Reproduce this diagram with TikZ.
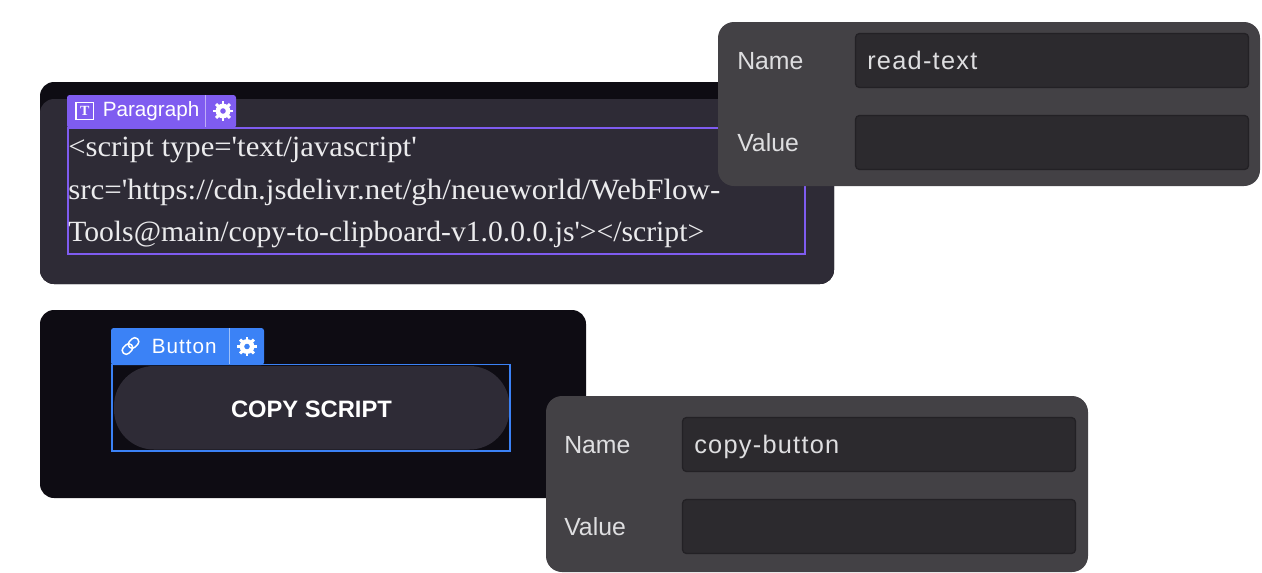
\documentclass[tikz,border=0pt]{standalone}
\usepackage{fontspec}
\newfontfamily\codefont{Liberation Serif}
\newfontfamily\uifont{Liberation Sans}
\newfontfamily\uiwide[LetterSpace=5]{Liberation Sans}
\definecolor{blackpanel}{HTML}{0E0C13}
\definecolor{innerpanel}{HTML}{2E2B36}
\definecolor{purplesel}{HTML}{7F5CF0}
\definecolor{bluesel}{HTML}{3B82F6}
\definecolor{graypanel}{HTML}{434145}
\definecolor{fieldfill}{HTML}{2C2A2E}
\definecolor{fieldline}{HTML}{232125}
\definecolor{labelgray}{HTML}{DEDEE0}
\definecolor{codegray}{HTML}{EBEBED}
\tikzset{
  x=0.75pt,y=-0.75pt,
  lbl/.style={anchor=base west,inner sep=0,text=labelgray,font=\uifont\fontsize{18.6}{20}\selectfont},
  fieldtext/.style={anchor=base west,inner sep=0,text=labelgray,font=\uiwide\fontsize{19}{20}\selectfont},
  tagtext/.style={anchor=base west,inner sep=0,text=white,font=\uifont\fontsize{15.5}{18}\selectfont},
  tagwide/.style={anchor=base west,inner sep=0,text=white,font=\uiwide\fontsize{15.5}{18}\selectfont},
  codeline/.style={anchor=base west,inner sep=0,text=codegray,font=\codefont\fontsize{22}{24}\selectfont},
  fieldbox/.style={fill=fieldfill,draw=fieldline,line width=1pt,rounded corners=3pt},
  panelbox/.style={fill=graypanel,rounded corners=12pt},
  blackbox/.style={fill=blackpanel,rounded corners=10.5pt},
}
\newcommand{\gearicon}[2]{%
  \foreach \a in {0,45,...,315}{\draw[white,line width=2.2pt] (#1,#2)++(\a:6.2)--++(\a:3.6);}
  \fill[white,even odd rule] (#1,#2) circle[radius=7.4] (#1,#2) circle[radius=2.9];
}
\begin{document}
\begin{tikzpicture}
\useasboundingbox (0,0) rectangle (1262,572);
% top dark panel
\fill[blackbox] (40,82) rectangle (834,284);
\fill[innerpanel,rounded corners=10.5pt] (40,99) -- (834,99) -- (834,284) -- (40,284) -- cycle;
\draw[purplesel,line width=1.5pt] (67.5,127.5) rectangle (804.5,253.5);
\fill[purplesel,rounded corners=2pt] (67,128) -- (67,95) -- (236,95) -- (236,128) -- cycle;
\draw[white,opacity=.5,line width=1pt] (205.5,95) -- (205.5,127);
\draw[white,line width=1pt] (76,102.5) rectangle (93.5,119.5);
\node[anchor=center,inner sep=0,text=white,font=\codefont\bfseries\fontsize{10.5}{12}\selectfont] (ticon) at (84.8,111) {T};
\node[tagtext] (ptag) at (102.5,116.5) {Paragraph};
\gearicon{223}{111}
\node[codeline] (c1) at (68,156.5) {\scalebox{1.047}[1]{<script type='text/javascript'}};
\node[codeline] (c2) at (68,199) {\scalebox{1.056}[1]{src='https://cdn.jsdelivr.net/gh/neueworld/WebFlow-}};
\node[codeline] (c3) at (68,241.5) {\scalebox{1.011}[1]{Tools@main/copy-to-clipboard-v1.0.0.0.js'></script>}};
% bottom dark panel
\fill[blackbox] (40,310) rectangle (586,498);
\fill[innerpanel,rounded corners=30pt] (114,366) rectangle (509.5,449.5);
\draw[bluesel,line width=1.2pt] (112,364.5) rectangle (510,451);
\fill[bluesel,rounded corners=2pt] (111,365) -- (111,328) -- (264,328) -- (264,365) -- cycle;
\draw[white,opacity=.5,line width=1pt] (229.5,328) -- (229.5,364);
\begin{scope}[shift={(130.5,346)},rotate=45]
\draw[white,line width=1.1pt,rounded corners=2.8pt] (-10,-4) rectangle (1.5,4);
\draw[white,line width=1.1pt,rounded corners=2.8pt] (-1.5,-4) rectangle (10,4);
\end{scope}
\node[tagwide] (btag) at (151.5,353) {Button};
\gearicon{247}{346.5}
\node[anchor=center,inner sep=0,text=white,font=\uifont\bfseries\fontsize{17.8}{20}\selectfont] (btn) at (311.5,409) {COPY SCRIPT};
% settings panel 1
\fill[panelbox] (718,22) rectangle (1260,186);
\draw[fieldbox] (855.5,33.5) rectangle (1248.5,87.5);
\draw[fieldbox] (855.5,115.5) rectangle (1248.5,169.5);
\node[lbl] (n1) at (737,69.5) {Name};
\node[lbl] (v1) at (737,151.5) {Value};
\node[fieldtext] (t1) at (867,69.5) {read-text};
% settings panel 2
\fill[panelbox] (546,396) rectangle (1088,572);
\draw[fieldbox] (682.5,417.5) rectangle (1075.5,471.5);
\draw[fieldbox] (682.5,499.5) rectangle (1075.5,553.5);
\node[lbl] (n2) at (564,453.5) {Name};
\node[lbl] (v2) at (564,535.5) {Value};
\node[fieldtext] (t2) at (694,453.5) {copy-button};
\end{tikzpicture}
\end{document}
